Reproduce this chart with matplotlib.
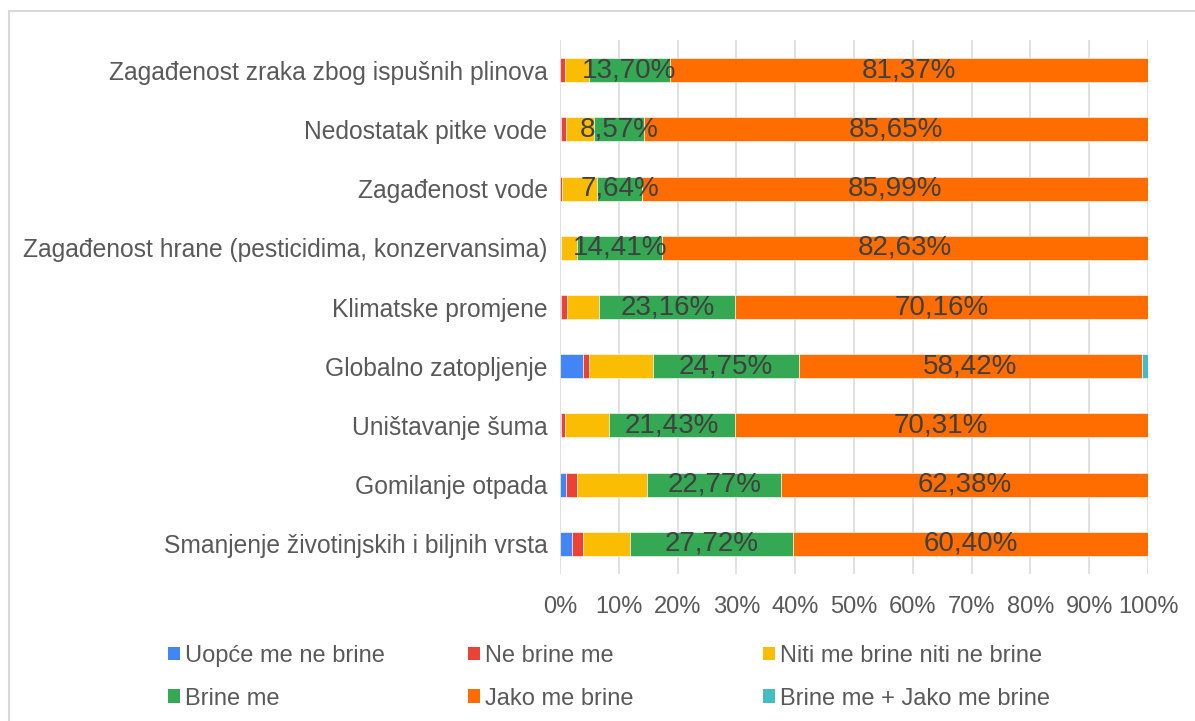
import matplotlib
matplotlib.use("Agg")
import matplotlib.pyplot as plt
from matplotlib.patches import Patch
from matplotlib.lines import Line2D
import numpy as np

plt.rcParams['font.family'] = ['Liberation Sans', 'DejaVu Sans']

# categories, top to bottom as shown
categories = [
    'Zagađenost zraka zbog ispušnih plinova',
    'Nedostatak pitke vode',
    'Zagađenost vode',
    'Zagađenost hrane (pesticidima, konzervansima)',
    'Klimatske promjene',
    'Globalno zatopljenje',
    'Uništavanje šuma',
    'Gomilanje otpada',
    'Smanjenje životinjskih i biljnih vrsta',
]

series_names = ['Uopće me ne brine', 'Ne brine me', 'Niti me brine niti ne brine',
                'Brine me', 'Jako me brine', 'Brine me + Jako me brine']

uopce_ne = [0.00, 0.20, 0.00, 0.20, 0.25, 3.96, 0.20, 0.99, 1.98]
ne_brine = [0.88, 0.90, 0.40, 0.00, 0.95, 0.99, 0.60, 1.98, 1.98]
niti = [4.05, 4.68, 5.97, 2.76, 5.48, 10.89, 7.46, 11.88, 7.92]
brine = [13.70, 8.57, 7.64, 14.41, 23.16, 24.75, 21.43, 22.77, 27.72]
jako = [81.37, 85.65, 85.99, 82.63, 70.16, 58.42, 70.31, 62.38, 60.40]
brine_jako = [0.00, 0.00, 0.00, 0.00, 0.00, 0.99, 0.00, 0.00, 0.00]

colors = ['#4285F4', '#EA4335', '#FBBC04', '#34A853', '#FF6D01', '#46BDC6']
labelled = [False, False, False, True, True, False]

fig = plt.figure(figsize=(11.95, 7.21), dpi=100)
ax = fig.add_axes([560 / 1195, 1 - 573.6 / 721, 588 / 1195, 533.2 / 721])

y = np.arange(len(categories))
all_series = [uopce_ne, ne_brine, niti, brine, jako, brine_jako]
left = np.zeros(len(categories))
for vals, col, lab in zip(all_series, colors, labelled):
    vals = np.array(vals)
    ax.barh(y, vals, left=left, height=0.405, color=col,
            edgecolor='white', linewidth=0.4, zorder=3)
    if lab:
        for yi, (l, v) in enumerate(zip(left, vals)):
            if v > 0:
                ax.text(l + v / 2, yi, f'{v:.2f}%'.replace('.', ','),
                        ha='center', va='center', fontsize=20,
                        color='#404040', zorder=4)
    left += vals

ax.set_xlim(0, 100)
ax.set_ylim(len(categories) - 0.5, -0.5)
ax.set_xticks(np.arange(0, 101, 10))
ax.set_xticklabels([f'{t}%' for t in range(0, 101, 10)])
ax.set_yticks(y)
ax.set_yticklabels(categories)
ax.tick_params(axis='both', length=0, labelsize=17, labelcolor='#595959')
ax.tick_params(axis='y', labelsize=17.7, pad=9)
ax.tick_params(axis='x', pad=16)
ax.grid(axis='x', color='#d9d9d9', linewidth=1.1, zorder=0)
for s in ax.spines.values():
    s.set_visible(False)

# legend, three columns placed separately like the original
col_x = [168, 468, 763]
for c in range(3):
    idx = [c, c + 3]
    handles = [Patch(facecolor=colors[i], edgecolor='none') for i in idx]
    fig.legend(handles, [series_names[i] for i in idx],
               loc='upper left', bbox_to_anchor=(col_x[c] / 1195, 1 - 645 / 721),
               frameon=False, fontsize=17, labelcolor='#595959',
               handlelength=0.5, handleheight=0.5, handletextpad=0.2,
               labelspacing=0.87, borderpad=0, borderaxespad=0)

# light frame of the chart area
fig.add_artist(Line2D([9 / 1195, 1], [1 - 11 / 721, 1 - 11 / 721],
                      transform=fig.transFigure, color='#d9d9d9', linewidth=1.5))
fig.add_artist(Line2D([9 / 1195, 9 / 1195], [0, 1 - 11 / 721],
                      transform=fig.transFigure, color='#d9d9d9', linewidth=1.5))

fig.savefig('out.png', dpi=100)
